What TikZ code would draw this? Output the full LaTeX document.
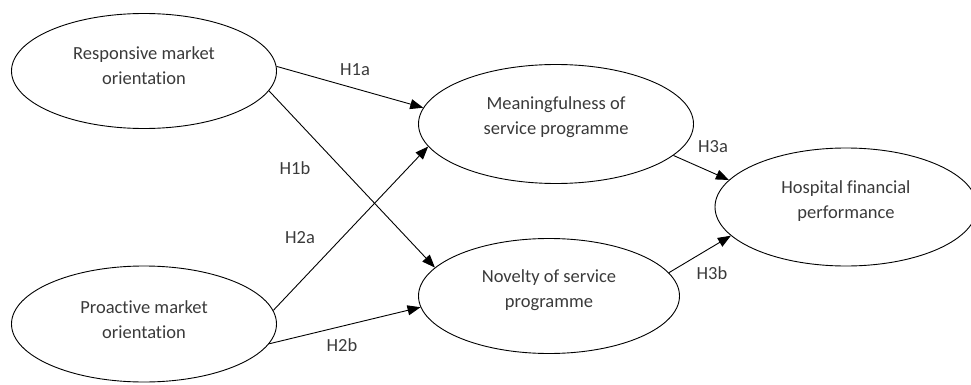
\documentclass[tikz,border=0pt]{standalone}
\usepackage{fontspec}
\setmainfont{Carlito}[Ligatures=NoCommon]
\usetikzlibrary{shapes.geometric,arrows.meta}
\definecolor{txt}{HTML}{3A3A3A}
\begin{document}
\begin{tikzpicture}[x=1pt,y=-1pt,
  construct/.style={ellipse,draw=black,line width=0.9pt,inner sep=0pt},
  ctext/.style={align=center,text=txt,inner sep=0pt,font=\fontsize{18.5}{25}\selectfont},
  path/.style={draw=black,line width=0.9pt,-{Triangle[length=13pt,width=10pt]}},
  hyp/.style={text=txt,font=\fontsize{18.5}{22}\selectfont,inner sep=0pt}]
\useasboundingbox (0,0) rectangle (971,385);
\begin{scope}
\clip (0,0) rectangle (971,385);
\node[construct,minimum width=265pt,minimum height=115pt] (resp) at (144,71) {};
\node[construct,minimum width=265pt,minimum height=116pt] (proa) at (144,324) {};
\node[construct,minimum width=275pt,minimum height=119pt] (mean) at (556,124) {};
\node[construct,minimum width=261pt,minimum height=115pt] (nov) at (549,296) {};
\node[construct,minimum width=262pt,minimum height=118pt] (hosp) at (846,207) {};
\end{scope}
\node[ctext] (resp-t) at ([yshift=5pt]resp.center) {Responsive market\\orientation};
\node[ctext] (proa-t) at ([yshift=4pt]proa.center) {Proactive market\\orientation};
\node[ctext] (mean-t) at ([yshift=7pt]mean.center) {Meaningfulness of\\service programme};
\node[ctext] (nov-t) at ([yshift=6pt]nov.center) {Novelty of service\\programme};
\node[ctext] (hosp-t) at ([yshift=6pt]hosp.center) {Hospital financial\\performance};
\draw[path] (resp.2) -- (mean.173);
\draw[path] (resp.-9) -- (nov.166);
\draw[path] (proa.6) -- (mean.190);
\draw[path] (proa.-9) -- (nov.185);
\draw[path] (mean.-15) -- (hosp.167);
\draw[path] (nov.11) -- (hosp.194);
\node[hyp] (h1a) at (355,70) {H1a};
\node[hyp] (h1b) at (295,168) {H1b};
\node[hyp] (h2a) at (300,238) {H2a};
\node[hyp] (h2b) at (342,345) {H2b};
\node[hyp] (h3a) at (713,147) {H3a};
\node[hyp] (h3b) at (712,273) {H3b};
\end{tikzpicture}
\end{document}
